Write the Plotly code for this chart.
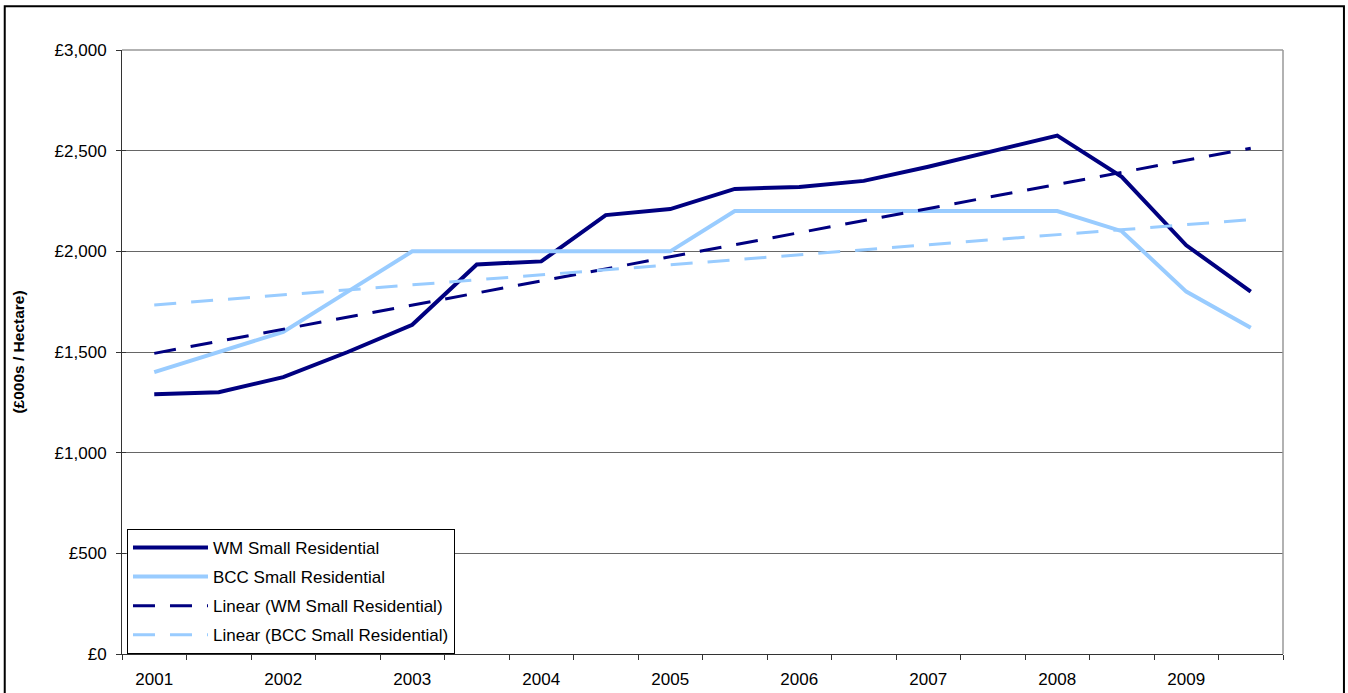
import numpy as np
import plotly.graph_objects as go

# Half-yearly observations, 2001 to 2009 (18 periods)
periods = list(range(18))
year_labels = ["2001", "2002", "2003", "2004", "2005", "2006", "2007", "2008", "2009"]
year_positions = [0, 2, 4, 6, 8, 10, 12, 14, 16]

wm_small_residential = [1290, 1300, 1375, 1500, 1635, 1935, 1950, 2180, 2210,
                        2310, 2320, 2350, 2420, 2500, 2575, 2370, 2030, 1800]
bcc_small_residential = [1400, 1500, 1600, 1800, 2000, 2000, 2000, 2000, 2000,
                         2200, 2200, 2200, 2200, 2200, 2200, 2100, 1800, 1620]

y_ticks = [0, 500, 1000, 1500, 2000, 2500, 3000]
y_tick_labels = ["£0", "£500", "£1,000", "£1,500", "£2,000", "£2,500", "£3,000"]

NAVY = "#000080"
LIGHT_BLUE = "#99CCFF"
FONT = "Liberation Sans, Arial, sans-serif"


def linear_trend(values):
    x = np.arange(len(values), dtype=float)
    slope, intercept = np.polyfit(x, np.asarray(values, dtype=float), 1)
    return list(slope * x + intercept)


wm_trend = linear_trend(wm_small_residential)
bcc_trend = linear_trend(bcc_small_residential)

fig = go.Figure()
fig.add_trace(go.Scatter(x=periods, y=wm_small_residential, mode="lines",
                         name="WM Small Residential", legendgroup="a",
                         line=dict(color=NAVY, width=4)))
fig.add_trace(go.Scatter(x=periods, y=bcc_small_residential, mode="lines",
                         name="BCC Small Residential", legendgroup="b",
                         line=dict(color=LIGHT_BLUE, width=4)))
fig.add_trace(go.Scatter(x=periods, y=wm_trend, mode="lines",
                         name="Linear (WM Small Residential)", legendgroup="c",
                         line=dict(color=NAVY, width=3, dash="22px,15px")))
fig.add_trace(go.Scatter(x=periods, y=bcc_trend, mode="lines",
                         name="Linear (BCC Small Residential)", legendgroup="d",
                         line=dict(color=LIGHT_BLUE, width=3, dash="22px,15px")))

# invisible trace carrying the inward half of the crossing y tick marks
fig.add_trace(go.Scatter(x=[None], y=[None], yaxis="y2", showlegend=False,
                         hoverinfo="skip"))

boundaries = [p - 0.5 for p in periods] + [periods[-1] + 0.5]

fig.update_layout(
    width=1348, height=693,
    margin=dict(l=122, r=65, t=50, b=39, autoexpand=False),
    paper_bgcolor="white", plot_bgcolor="white",
    font=dict(family=FONT, size=17, color="black"),
    xaxis=dict(
        range=[-0.5, 17.5], tickmode="array", tickvals=year_positions,
        ticktext=year_labels, ticks="", showgrid=False, zeroline=False,
        showline=True, linecolor="#333333", linewidth=1,
        ticklabelstandoff=10, automargin=False,
        minor=dict(tickmode="array", tickvals=boundaries, ticks="outside",
                   ticklen=5, tickcolor="#333333", showgrid=False),
        tickfont=dict(size=17),
    ),
    yaxis=dict(
        range=[0, 3000], tickmode="array", tickvals=y_ticks,
        ticktext=y_tick_labels, ticks="outside", ticklen=5,
        tickcolor="#333333", showgrid=True, gridcolor="#666666", gridwidth=1,
        zeroline=False, showline=True, linecolor="#333333", linewidth=1,
        ticklabelstandoff=6, tickfont=dict(size=17), automargin=False,
        title=dict(text="<b>(£000s / Hectare)</b>", font=dict(size=15.5),
                   standoff=26),
    ),
    yaxis2=dict(
        range=[0, 3000], overlaying="y", side="left", tickmode="array",
        tickvals=y_ticks, showticklabels=False, ticks="inside", ticklen=4,
        tickcolor="#333333", showgrid=False, zeroline=False, showline=False,
        automargin=False,
    ),
    legend=dict(
        x=0.0043, y=0.207, xanchor="left", yanchor="top",
        bgcolor="white", bordercolor="black", borderwidth=1,
        font=dict(size=17), itemwidth=75, tracegroupgap=4,
    ),
    showlegend=True,
)

# plot-area frame on top and right, and the outer chart border
fig.add_shape(type="line", xref="paper", yref="paper", x0=0, x1=1, y0=1, y1=1,
              line=dict(color="#999999", width=1.5))
fig.add_shape(type="line", xref="paper", yref="paper", x0=1, x1=1, y0=0, y1=1,
              line=dict(color="#999999", width=1.5))
fig.add_shape(type="rect", xref="paper", yref="paper",
              x0=-0.1010, x1=1.0525, y0=-0.2, y1=1.0725,
              line=dict(color="black", width=2), layer="below")

fig.write_html("out.html")
